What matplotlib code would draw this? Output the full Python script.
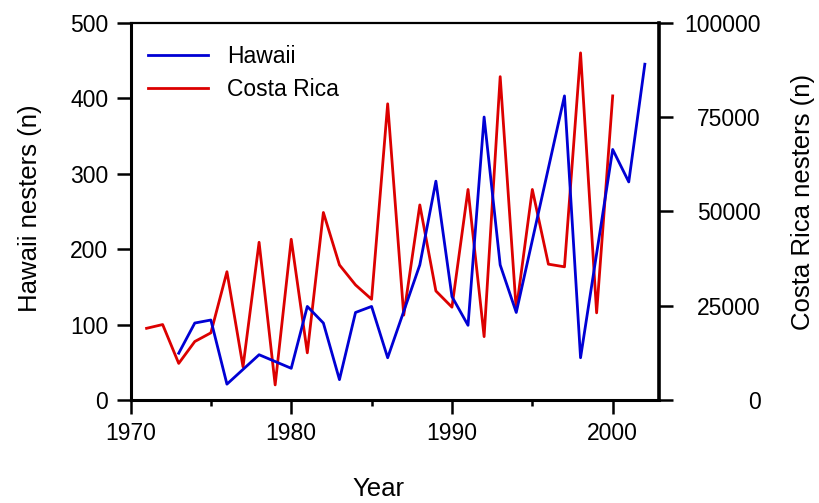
import matplotlib
matplotlib.use("Agg")
import matplotlib.pyplot as plt
from matplotlib.ticker import MultipleLocator

plt.rcParams['font.family'] = ['Liberation Sans', 'DejaVu Sans']

# Data
hawaii_years = [1973, 1974, 1975, 1976, 1978, 1979, 1980, 1981, 1982, 1983, 1984,
                1985, 1986, 1988, 1989, 1990, 1991, 1992, 1993, 1994, 1997, 1998,
                2000, 2001, 2002]
hawaii_nesters = [62, 102, 106, 21, 60, 51, 42, 124, 102, 27, 116,
                  124, 56, 179, 290, 137, 99, 375, 179, 116, 403, 56,
                  332, 289, 445]

cr_years = list(range(1971, 2001))
cr_nesters = [19000, 20000, 9700, 15500, 17800, 34000, 8800, 41800, 4000, 42600,
              12500, 49700, 35800, 30500, 26700, 78500, 22500, 51700, 28900, 24600,
              55800, 16800, 85700, 23800, 55800, 36000, 35300, 92000, 23100, 80600]

x_ticks = [1970, 1980, 1990, 2000]
left_ticks = [0, 100, 200, 300, 400, 500]
right_ticks = [0, 25000, 50000, 75000, 100000]

W, H = 819, 503
fig = plt.figure(figsize=(W / 100, H / 100), dpi=100)
ax = fig.add_axes([130.5 / W, (H - 400) / H, 528 / W, 377.3 / H])
ax2 = ax.twinx()

blue = '#0000d4'
red = '#dc0000'

l2, = ax2.plot(cr_years, cr_nesters, color=red, lw=2.0, label='Costa Rica')
l1, = ax.plot(hawaii_years, hawaii_nesters, color=blue, lw=2.0, label='Hawaii')

ax.set_zorder(ax2.get_zorder() + 1)
ax.patch.set_visible(False)

ax.set_xlim(1970, 2002.85)
ax.set_ylim(0, 500)
ax2.set_ylim(0, 100000)
ax.set_xticks(x_ticks)
ax.xaxis.set_minor_locator(MultipleLocator(5))
ax.set_yticks(left_ticks)
ax2.set_yticks(right_ticks)

for s in ['left', 'bottom']:
    ax.spines[s].set_linewidth(2.2)
ax.spines['top'].set_linewidth(1.6)
ax.spines['right'].set_visible(False)
for s in ['left', 'bottom', 'top']:
    ax2.spines[s].set_visible(False)
ax2.spines['right'].set_linewidth(2.6)

ax.tick_params(axis='both', which='major', direction='out', length=10, width=1.8,
               labelsize=16.5, pad=6)
ax.tick_params(axis='x', which='minor', direction='out', length=4.5, width=1.8)
ax.tick_params(axis='y', which='minor', left=False)
ax2.tick_params(axis='y', which='major', direction='out', length=10, width=1.8,
                labelsize=16.5, pad=63.8)
for t in ax2.get_yticklabels():
    t.set_ha('right')

fig.text(30 / W, 1 - 208 / H, 'Hawaii nesters (n)', rotation=90, fontsize=18.5,
         ha='center', va='center')
fig.text(803 / W, 1 - 202 / H, 'Costa Rica nesters (n)', rotation=90, fontsize=18.5,
         ha='center', va='center')
fig.text(378 / W, 1 - 489 / H, 'Year', fontsize=18.5, ha='center', va='center')

ax.legend(handles=[l1, l2], loc='upper left', frameon=False, fontsize=16.5,
          bbox_to_anchor=(17 / 528, 0.942), borderaxespad=0, borderpad=0,
          handlelength=2.66, handletextpad=0.82, labelspacing=0.45)

fig.savefig('out.png', dpi=100)
